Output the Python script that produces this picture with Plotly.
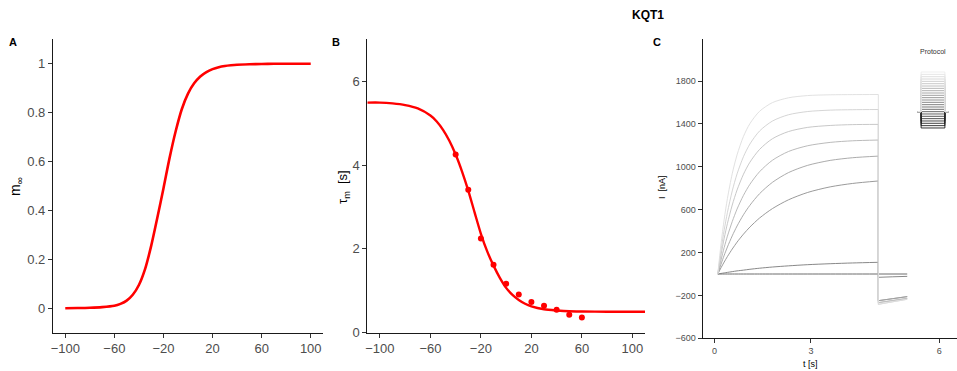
import plotly.graph_objects as go

# ---------------- data ----------------
# Panel A: steady-state activation
v_a = [-100, -90, -80, -70, -60, -55, -50, -45, -40, -35, -30, -25, -20, -15, -10, -5, 0,
       5, 10, 15, 20, 25, 30, 35, 40, 50, 60, 70, 80, 90, 100]
m_inf = [0.0003, 0.0008, 0.002, 0.0045, 0.010, 0.018, 0.031, 0.055, 0.095, 0.160, 0.255, 0.370,
         0.490, 0.615, 0.725, 0.815, 0.878, 0.920, 0.948, 0.966, 0.978, 0.986, 0.991, 0.994,
         0.996, 0.998, 0.999, 1.0, 1.0, 1.0, 1.0]

# Panel B: time constant fit and measured points
v_b = [-110, -100, -90, -80, -70, -60, -55, -50, -45, -40, -35, -30, -25, -20, -15, -10,
       -5, 0, 5, 10, 15, 20, 30, 40, 50, 60, 80, 100, 110]
tau_fit = [5.49, 5.49, 5.47, 5.43, 5.35, 5.18, 5.04, 4.84, 4.58, 4.25, 3.85, 3.39, 2.87,
           2.36, 1.94, 1.60, 1.31, 1.07, 0.90, 0.78, 0.69, 0.63, 0.56, 0.53, 0.51, 0.505,
           0.50, 0.50, 0.50]
v_pts = [-40, -30, -20, -10, 0, 10, 20, 30, 40, 50, 60]
tau_pts = [4.25, 3.41, 2.25, 1.62, 1.17, 0.91, 0.73, 0.64, 0.55, 0.43, 0.36]

# Panel C: current traces (nA) during step and tail
t_step = [0.1, 0.2, 0.3, 0.4, 0.55, 0.7, 0.9, 1.1, 1.4, 1.8, 2.3, 2.9, 3.6, 4.3, 5.1]
t_tail = [5.1, 5.55, 6.0]
i_step = [
    [0, 278, 511, 704, 936, 1112, 1284, 1403, 1518, 1599, 1644, 1665, 1672, 1674, 1675],
    [0, 222, 412, 574, 775, 934, 1095, 1213, 1334, 1427, 1486, 1516, 1529, 1533, 1535],
    [0, 179, 335, 471, 643, 784, 931, 1043, 1162, 1262, 1329, 1368, 1386, 1394, 1396],
    [0, 130, 248, 353, 489, 606, 734, 837, 954, 1061, 1143, 1197, 1228, 1243, 1250],
    [0, 91, 175, 252, 356, 448, 553, 641, 749, 855, 946, 1014, 1060, 1085, 1100],
    [0, 58, 112, 163, 233, 297, 372, 438, 522, 610, 692, 761, 813, 845, 868],
    [0, 5, 10, 15, 22, 29, 36, 44, 54, 65, 76, 87, 96, 103, 109],
    [0, 0, 0, 0, 0, 0, 0, 0, 0, 0, 0, 0, 0, 0, 0],
]
i_tail = [
    [-283, -259, -236],
    [-283, -259, -236],
    [-267, -247, -227],
    [-267, -247, -227],
    [-249, -230, -211],
    [-249, -230, -211],
    [-31, -26, -22],
    [0, 0, 0],
]
trace_colors = ["#DEDEDE", "#D0D0D0", "#C2C2C2", "#B2B2B2", "#A2A2A2", "#8E8E8E", "#7A7A7A", "#5C5C5C"]

# Protocol inset
proto_t = [0, 1, 1, 8, 8, 9]
proto_hold = -50
proto_levels = [120, 110, 100, 90, 80, 70, 60, 50, 40, 30, 20, 10, 0, -10, -20, -30, -40,
                -50, -60, -70, -80, -90, -100, -110, -120]

# ---------------- figure ----------------
W, H = 957, 371
FONT = "Liberation Sans, Arial, sans-serif"
RED = "#FF0000"


def px_x(p):
    return p / W


def px_y(p):
    return 1 - p / H


fig = go.Figure()

fig.add_trace(go.Scatter(x=v_a, y=m_inf, mode="lines", line=dict(color=RED, width=2.6, shape="spline", smoothing=0.8),
                         xaxis="x", yaxis="y", hoverinfo="skip"))

fig.add_trace(go.Scatter(x=v_b, y=tau_fit, mode="lines", line=dict(color=RED, width=2.4, shape="spline", smoothing=0.7),
                         xaxis="x2", yaxis="y2", hoverinfo="skip"))
fig.add_trace(go.Scatter(x=v_pts, y=tau_pts, mode="markers", marker=dict(color=RED, size=6),
                         xaxis="x2", yaxis="y2", hoverinfo="skip"))

n = len(i_step)
for k in range(n - 1, -1, -1):
    fig.add_trace(go.Scatter(x=t_step, y=i_step[k], mode="lines",
                             line=dict(color=trace_colors[k], width=0.9, shape="spline", smoothing=0.8),
                             xaxis="x3", yaxis="y3", hoverinfo="skip"))
    fig.add_trace(go.Scatter(x=[t_tail[0]] + t_tail, y=[i_step[k][-1]] + i_tail[k], mode="lines",
                             line=dict(color=trace_colors[k], width=0.9),
                             xaxis="x3", yaxis="y3", hoverinfo="skip"))

# protocol: darkest (lowest level) first, lightest last
nl = len(proto_levels)
for j in range(nl - 1, -1, -1):
    lvl = proto_levels[j]
    g = int(round(235 * (1 - j / (nl - 1))))
    col = f"rgb({g},{g},{g})"
    fig.add_trace(go.Scatter(x=proto_t, y=[proto_hold, proto_hold, lvl, lvl, proto_hold, proto_hold],
                             mode="lines", line=dict(color=col, width=0.8),
                             xaxis="x4", yaxis="y4", hoverinfo="skip"))

axis_common = dict(showline=True, linecolor="#1A1A1A", linewidth=1.1, ticks="outside", ticklen=4,
                   tickcolor="#333333", tickwidth=1, showgrid=False, zeroline=False, automargin=False)

ydom = [px_y(332.7), px_y(39.3)]
fig.update_layout(
    width=W, height=H, margin=dict(l=0, r=0, t=0, b=0, autoexpand=False),
    paper_bgcolor="white", plot_bgcolor="white", showlegend=False,
    font=dict(family=FONT),
    xaxis=dict(domain=[px_x(53), px_x(323)], range=[-110, 110], tickvals=[-100, -60, -20, 20, 60, 100],
               anchor="y", tickfont=dict(size=13, color="#4D4D4D"), **axis_common),
    yaxis=dict(domain=ydom, range=[-0.1, 1.1], tickvals=[0, 0.2, 0.4, 0.6, 0.8, 1],
               anchor="x", tickfont=dict(size=13, color="#4D4D4D"), **axis_common),
    xaxis2=dict(domain=[px_x(367.3), px_x(645)], range=[-110, 110], tickvals=[-100, -60, -20, 20, 60, 100],
                anchor="y2", tickfont=dict(size=13, color="#4D4D4D"), **axis_common),
    yaxis2=dict(domain=ydom, range=[0, 7], tickvals=[0, 2, 4, 6],
                anchor="x2", tickfont=dict(size=13, color="#4D4D4D"), **axis_common),
    xaxis3=dict(domain=[px_x(702.7), 1.0], range=[-0.37, 7.55], tickvals=[0, 3, 7], ticktext=["0", "3", "6"],
                anchor="y3", tickfont=dict(size=9, color="#4D4D4D"), **axis_common),
    yaxis3=dict(domain=[px_y(338.3), px_y(39.3)], range=[-600, 2190],
                tickvals=[-600, -200, 200, 600, 1000, 1400, 1800],
                anchor="x3", tickfont=dict(size=9, color="#4D4D4D"), **axis_common),
    xaxis4=dict(domain=[px_x(916), px_x(950)], range=[-0.5, 9.5], visible=False, anchor="y4", automargin=False),
    yaxis4=dict(domain=[px_y(128.9), px_y(71.1)], range=[-124, 124], visible=False, anchor="x4", automargin=False),
)

ann = [
    dict(text="<b>KQT1</b>", x=px_x(648), y=px_y(15), size=12, angle=0, color="black"),
    dict(text="<b>A</b>", x=px_x(13), y=px_y(42), size=11, angle=0, color="black"),
    dict(text="<b>B</b>", x=px_x(336), y=px_y(42), size=11, angle=0, color="black"),
    dict(text="<b>C</b>", x=px_x(657), y=px_y(42), size=11, angle=0, color="black"),
    dict(text="m<sub>∞</sub>", x=px_x(16), y=px_y(187), size=14, angle=-90, color="black"),
    dict(text="τ<sub>m</sub>  [s]", x=px_x(343), y=px_y(187), size=13, angle=-90, color="black"),
    dict(text="I  [nA]", x=px_x(662), y=px_y(187), size=9, angle=-90, color="black"),
    dict(text="t [s]", x=px_x(810), y=px_y(364), size=9, angle=0, color="black"),
    dict(text="Protocol", x=px_x(933), y=px_y(51), size=7, angle=0, color="#333333"),
]
for a in ann:
    fig.add_annotation(text=a["text"], x=a["x"], y=a["y"], xref="paper", yref="paper",
                       showarrow=False, xanchor="center", yanchor="middle", textangle=a["angle"],
                       font=dict(family=FONT, size=a["size"], color=a["color"]))

fig.write_html("out.html")
